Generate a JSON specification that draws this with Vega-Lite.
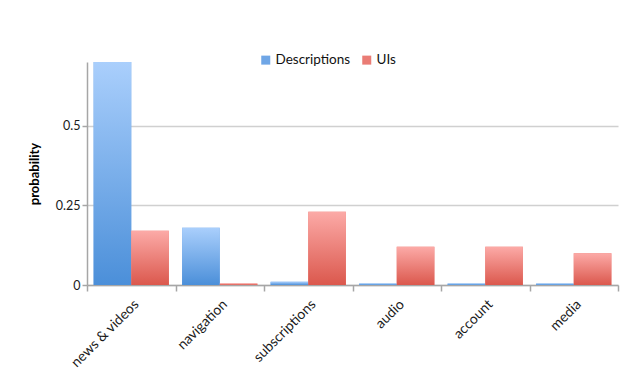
{
  "$schema": "https://vega.github.io/schema/vega-lite/v6.json",
  "autosize": {"type": "none"},
  "width": 531,
  "height": 223,
  "padding": {"left": 87, "top": 62, "right": 17, "bottom": 86},
  "background": "white",
  "config": {
    "font": "Lato",
    "view": {"stroke": null},
    "axis": {"labelFont": "Lato", "labelFontSize": 12.5, "labelColor": "#1a1a1a", "domainColor": "#a6a6a6", "tickColor": "#a6a6a6", "domainWidth": 1.5, "tickWidth": 1.5}
  },
  "data": {
    "values": [
      {"category": "news & videos", "series": "Descriptions", "p": 0.70},
      {"category": "news & videos", "series": "UIs", "p": 0.17},
      {"category": "navigation", "series": "Descriptions", "p": 0.18},
      {"category": "navigation", "series": "UIs", "p": 0.005},
      {"category": "subscriptions", "series": "Descriptions", "p": 0.01},
      {"category": "subscriptions", "series": "UIs", "p": 0.23},
      {"category": "audio", "series": "Descriptions", "p": 0.005},
      {"category": "audio", "series": "UIs", "p": 0.12},
      {"category": "account", "series": "Descriptions", "p": 0.005},
      {"category": "account", "series": "UIs", "p": 0.12},
      {"category": "media", "series": "Descriptions", "p": 0.005},
      {"category": "media", "series": "UIs", "p": 0.10}
    ]
  },
  "encoding": {
    "x": {
      "field": "category", "type": "nominal", "sort": null, "title": null,
      "scale": {"paddingInner": 0, "paddingOuter": 0},
      "axis": {"labelAngle": -45, "tickBand": "extent", "tickSize": 6, "labelPadding": 6, "labelFontSize": 14}
    },
    "xOffset": {"field": "series", "type": "nominal", "sort": ["Descriptions", "UIs"], "scale": {"domain": ["Descriptions", "UIs"], "paddingInner": 0, "paddingOuter": 0.176}},
    "y": {
      "field": "p", "type": "quantitative", "title": "probability",
      "scale": {"domain": [0, 0.7], "nice": false},
      "axis": {"values": [0, 0.25, 0.5], "format": ".2~f", "grid": true, "gridColor": "#d0d0d0", "gridWidth": 1.5, "tickSize": 5, "labelPadding": 2, "titleFont": "Lato", "titleFontSize": 13, "titleFontWeight": "bold", "titleColor": "#000", "titlePadding": 14}
    }
  },
  "layer": [
    {
      "mark": {"type": "bar"},
      "encoding": {
        "color": {
          "field": "series", "type": "nominal", "sort": ["Descriptions", "UIs"],
          "scale": {"domain": ["Descriptions", "UIs"], "range": ["#6fa6e6", "#ea7c75"]},
          "legend": {"title": null, "orient": "none", "direction": "horizontal", "legendX": 172, "legendY": -9, "symbolType": "square", "symbolSize": 81, "symbolStrokeWidth": 0, "symbolOpacity": 1, "labelFont": "Lato", "labelFontSize": 13.5, "labelColor": "#111", "columnPadding": 9, "labelOffset": 3}
        }
      }
    },
    {
      "transform": [{"filter": "datum.series === 'Descriptions'"}],
      "mark": {"type": "bar", "fill": {"gradient": "linear", "x1": 0, "y1": 0, "x2": 0, "y2": 1, "stops": [{"offset": 0, "color": "#aacffc"}, {"offset": 1, "color": "#4b8fd9"}]}}
    },
    {
      "transform": [{"filter": "datum.series === 'UIs'"}],
      "mark": {"type": "bar", "fill": {"gradient": "linear", "x1": 0, "y1": 0, "x2": 0, "y2": 1, "stops": [{"offset": 0, "color": "#fcaaa7"}, {"offset": 1, "color": "#db584d"}]}}
    }
  ]
}
